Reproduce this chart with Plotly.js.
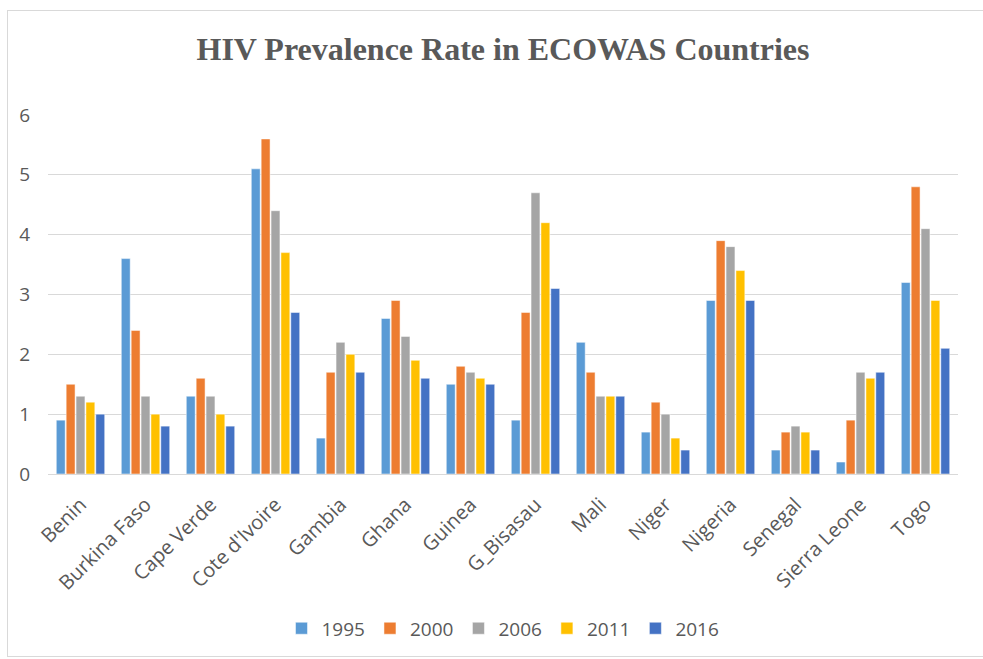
<!DOCTYPE html>
<html>
<head>
<meta charset="utf-8">
<script src="https://cdn.plot.ly/plotly-3.0.1.min.js"></script>
<style>
  html, body { margin: 0; padding: 0; background: #fff; overflow: hidden; }
  #chart { position: absolute; left: 7px; top: 10px; width: 976px; height: 647px; border: 1px solid #d9d9d9; border-right: none; box-sizing: border-box; }
</style>
</head>
<body>
<div id="chart"></div>
<script>
const countries = ["Benin", "Burkina Faso", "Cape Verde", "Cote d'Ivoire", "Gambia", "Ghana", "Guinea", "G_Bisasau", "Mali", "Niger", "Nigeria", "Senegal", "Sierra Leone", "Togo"];
const years = ["1995", "2000", "2006", "2011", "2016"];
const v1995 = [0.9, 3.6, 1.3, 5.1, 0.6, 2.6, 1.5, 0.9, 2.2, 0.7, 2.9, 0.4, 0.2, 3.2];
const v2000 = [1.5, 2.4, 1.6, 5.6, 1.7, 2.9, 1.8, 2.7, 1.7, 1.2, 3.9, 0.7, 0.9, 4.8];
const v2006 = [1.3, 1.3, 1.3, 4.4, 2.2, 2.3, 1.7, 4.7, 1.3, 1.0, 3.8, 0.8, 1.7, 4.1];
const v2011 = [1.2, 1.0, 1.0, 3.7, 2.0, 1.9, 1.6, 4.2, 1.3, 0.6, 3.4, 0.7, 1.6, 2.9];
const v2016 = [1.0, 0.8, 0.8, 2.7, 1.7, 1.6, 1.5, 3.1, 1.3, 0.4, 2.9, 0.4, 1.7, 2.1];
const seriesValues = [v1995, v2000, v2006, v2011, v2016];
const colors = ["#5b9bd5", "#ed7d31", "#a5a5a5", "#ffc000", "#4472c4"];

const traces = years.map((y, i) => ({
  type: "bar",
  name: y,
  x: countries,
  y: seriesValues[i],
  marker: { color: colors[i], line: { color: "#ffffff", width: 0.5 } },
  hoverinfo: "x+y+name"
}));

const layout = {
  width: 976,
  height: 647,
  margin: { l: 40, r: 26, t: 104, b: 184, autoexpand: false },
  paper_bgcolor: "rgba(0,0,0,0)",
  plot_bgcolor: "#ffffff",
  title: {
    text: "<b>HIV Prevalence Rate in ECOWAS Countries</b>",
    font: { family: "Liberation Serif, Times New Roman, serif", size: 32, color: "#595959" },
    xref: "paper", x: 0.5, xanchor: "center",
    yref: "container", y: 0.941, yanchor: "middle"
  },
  barmode: "group",
  bargap: 0.24,
  bargroupgap: 0.1,
  xaxis: {
    type: "category",
    tickangle: -45,
    tickfont: { family: "Open Sans, sans-serif", size: 20, color: "#595959" },
    showline: true, linecolor: "#d9d9d9", linewidth: 1,
    ticks: "", showgrid: false,
    ticklabelstandoff: 10,
    automargin: false
  },
  yaxis: {
    range: [0, 6],
    dtick: 1,
    tickfont: { family: "Open Sans, sans-serif", size: 19, color: "#595959" },
    gridcolor: "#d9d9d9", gridwidth: 1,
    zeroline: false, showline: false, ticks: "",
    ticklabelstandoff: 17,
    automargin: false
  },
  legend: {
    orientation: "h",
    x: 0.5, xanchor: "center",
    y: -0.43, yanchor: "middle",
    font: { family: "Open Sans, sans-serif", size: 19, color: "#595959" },
    traceorder: "normal"
  },
  showlegend: true
};

Plotly.newPlot("chart", traces, layout, { displayModeBar: false, staticPlot: true });
</script>
</body>
</html>
